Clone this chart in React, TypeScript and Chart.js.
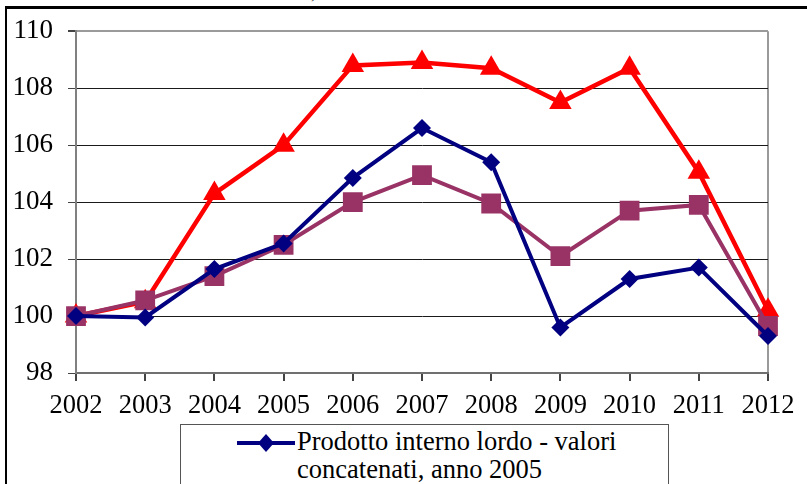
import React, { useEffect, useRef } from "react";
import { Chart, registerables } from "chart.js";

Chart.register(...registerables);

const years = ["2002", "2003", "2004", "2005", "2006", "2007", "2008", "2009", "2010", "2011", "2012"];
const pilValues = [100, 99.95, 101.65, 102.55, 104.85, 106.6, 105.4, 99.6, 101.3, 101.7, 99.3];
const secondValues = [100, 100.55, 101.4, 102.5, 104.0, 104.95, 103.95, 102.1, 103.7, 103.9, 99.65];
const thirdValues = [100, 100.5, 104.3, 106.0, 108.8, 108.9, 108.7, 107.5, 108.7, 105.05, 100.2];
const yTicks = [98, 100, 102, 104, 106, 108, 110];

const pilLabel = "Prodotto interno lordo - valori concatenati, anno 2005";
const secondLabel = "Serie 2";
const thirdLabel = "Serie 3";

const FONT = "'Liberation Serif', 'Times New Roman', serif";

export default function App() {
  const ref = useRef<HTMLCanvasElement | null>(null);

  useEffect(() => {
    document.body.style.margin = "0";
    const canvas = ref.current;
    if (!canvas) return;
    const chart = new Chart(canvas, {
      type: "line",
      data: {
        labels: years,
        datasets: [
          {
            label: pilLabel,
            data: pilValues,
            borderColor: "#000080",
            backgroundColor: "#000080",
            borderWidth: 4,
            pointStyle: "rectRot",
            pointRadius: 9,
            pointBorderWidth: 0,
            tension: 0,
          },
          {
            label: secondLabel,
            data: secondValues,
            borderColor: "#993366",
            backgroundColor: "#993366",
            borderWidth: 4,
            pointStyle: "rect",
            pointRadius: 14,
            pointBorderWidth: 0,
            tension: 0,
          },
          {
            label: thirdLabel,
            data: thirdValues,
            borderColor: "#FF0000",
            backgroundColor: "#FF0000",
            borderWidth: 4.5,
            pointStyle: "triangle",
            pointRadius: 13,
            pointBorderWidth: 0,
            tension: 0,
          },
        ],
      },
      options: {
        animation: false,
        responsive: false,
        maintainAspectRatio: false,
        layout: { padding: { left: 0, right: 39, top: 23, bottom: 0 } },
        plugins: {
          legend: { display: false },
          tooltip: { enabled: false },
        },
        scales: {
          x: {
            type: "category",
            offset: false,
            afterFit: (s: any) => {
              s.height = 111;
            },
            grid: {
              color: (c: any) => (c.index === years.length - 1 ? "#9a9a9a" : "rgba(0,0,0,0)"),
              lineWidth: 2,
              tickColor: "#444",
              tickLength: 8,
              drawOnChartArea: true,
            },
            border: { color: "#707070", width: 2 },
            ticks: {
              color: "#000",
              font: { family: FONT, size: 26.5 },
              padding: 9,
              maxRotation: 0,
              autoSkip: false,
            },
          },
          y: {
            min: 98,
            max: 110,
            afterFit: (s: any) => {
              s.width = 76;
            },
            afterBuildTicks: (s: any) => {
              s.ticks = yTicks.map((v) => ({ value: v }));
            },
            grid: {
              color: (c: any) =>
                c.tick && c.tick.value === 110 ? "#9a9a9a" : c.tick && c.tick.value === 98 ? "#707070" : "#1a1a1a",
              lineWidth: (c: any) => (c.tick && c.tick.value === 110 ? 2 : 1),
              tickColor: "#444",
              tickLength: 8,
            },
            border: { color: "#808080", width: 2 },
            ticks: {
              color: "#000",
              font: { family: FONT, size: 27 },
              padding: 15,
              callback: (v: any) => String(v),
            },
          },
        },
      },
    });
    return () => chart.destroy();
  }, []);

  return (
    <div
      style={{
        position: "fixed",
        left: 0,
        top: 0,
        width: 807,
        height: 484,
        overflow: "hidden",
        background: "#fff",
      }}
    >
      <div
        style={{
          position: "absolute",
          left: 22,
          top: -20,
          fontFamily: FONT,
          fontSize: 20,
          color: "#000",
          whiteSpace: "nowrap",
        }}
      >
        Italia: numeri indice base 2002=100, anni 2002-2012
      </div>
      <div
        style={{
          position: "absolute",
          left: 5,
          top: 6,
          width: 820,
          height: 500,
          borderTop: "3px solid #000",
          borderLeft: "2px solid #000",
        }}
      />
      <canvas ref={ref} width={807} height={484} style={{ position: "absolute", left: 0, top: 0 }} />
      <div
        style={{
          position: "absolute",
          left: 180,
          top: 424,
          width: 487,
          height: 100,
          border: "1px solid #555",
          background: "#fff",
          fontFamily: FONT,
          fontSize: 26.5,
          color: "#000",
        }}
      >
        <svg width={58} height={20} style={{ position: "absolute", left: 56, top: 8 }}>
          <line x1={0} y1={10} x2={58} y2={10} stroke="#000080" strokeWidth={4} />
          <polygon points="29,1 37,10 29,19 21,10" fill="#000080" />
        </svg>
        <div
          style={{
            position: "absolute",
            left: 116,
            top: 2,
            lineHeight: "28px",
            whiteSpace: "nowrap",
          }}
        >
          Prodotto interno lordo - valori
          <br />
          concatenati, anno 2005
        </div>
      </div>
    </div>
  );
}
